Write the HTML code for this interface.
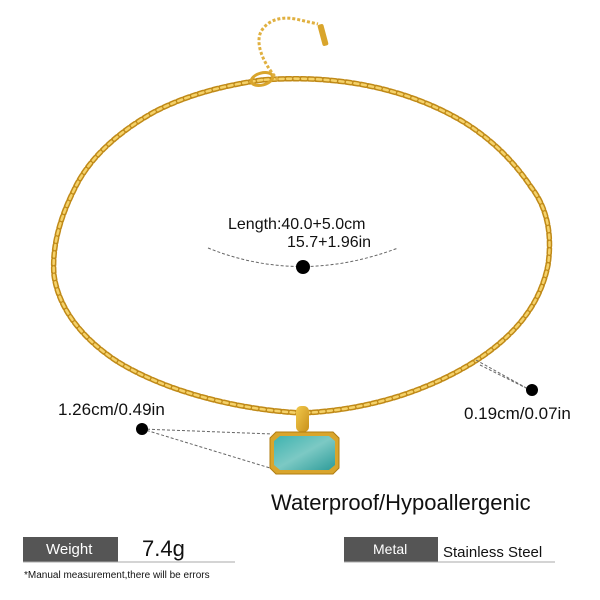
<!DOCTYPE html>
<html><head><style>
body{margin:0;width:600px;height:600px;background:#fff;overflow:hidden;font-family:"Liberation Sans",Arial,sans-serif;}
svg{position:absolute;left:0;top:0}
.t{position:absolute;color:#111;white-space:nowrap}
</style></head><body>
<svg width="600" height="600">
<defs>
<linearGradient id="g" x1="0" y1="0" x2="1" y2="1"><stop offset="0" stop-color="#f2c94c"/><stop offset="1" stop-color="#c8901a"/></linearGradient>
<linearGradient id="st" x1="0" y1="0" x2="1" y2="1"><stop offset="0" stop-color="#3fb3b0"/><stop offset="0.5" stop-color="#7cc9c4"/><stop offset="1" stop-color="#2e9c9a"/></linearGradient>
</defs>
<g fill="none" stroke-linecap="round">
<path d="M262,80 C220,86 185,96 154,112 C115,134 88,160 74,190 C58,222 52,250 54,275 C58,305 78,335 115,360 C165,392 240,410 302,413 C370,410 430,390 477,360 C515,335 540,305 548,265 C553,230 545,205 531,187 C513,160 490,138 462,121 C430,102 390,88 346,82 C315,78 288,78 262,80 Z" stroke="#c08a18" stroke-width="5.5" stroke-dasharray="5 2.5"/>
<path d="M262,80 C220,86 185,96 154,112 C115,134 88,160 74,190 C58,222 52,250 54,275 C58,305 78,335 115,360 C165,392 240,410 302,413 C370,410 430,390 477,360 C515,335 540,305 548,265 C553,230 545,205 531,187 C513,160 490,138 462,121 C430,102 390,88 346,82 C315,78 288,78 262,80 Z" stroke="#f5d26a" stroke-width="2.5" stroke-dasharray="4 3.5"/>
</g>
<!-- clasp and extender -->
<ellipse cx="262" cy="79" rx="11" ry="6" fill="none" stroke="#d9a52c" stroke-width="3" transform="rotate(-15 262 79)"/>
<path d="M278,80 C260,60 255,40 262,30 C270,18 285,16 300,20 L318,24" fill="none" stroke="#e0b040" stroke-width="3" stroke-dasharray="3 2"/>
<rect x="320" y="24" width="6" height="22" rx="2" fill="#d9a52c" transform="rotate(-15 323 35)"/>
<!-- pendant -->
<rect x="296" y="406" width="13" height="26" rx="5" fill="url(#g)"/>
<path d="M276,432 L333,432 L339,438 L339,468 L333,474 L276,474 L270,468 L270,438 Z" fill="#d9a52c" stroke="#b07d12"/>
<path d="M280,436 L329,436 L335,441 L335,465 L329,470 L280,470 L274,465 L274,441 Z" fill="url(#st)"/>
<!-- measurement lines -->
<path d="M208,248 Q300,285 398,248" fill="none" stroke="#666" stroke-dasharray="3 2"/>
<circle cx="303" cy="267" r="7" fill="#000"/>
<line x1="142" y1="429" x2="272" y2="434" stroke="#666" stroke-dasharray="3 2"/>
<line x1="142" y1="429" x2="270" y2="468" stroke="#666" stroke-dasharray="3 2"/>
<circle cx="142" cy="429" r="6" fill="#000"/>
<line x1="476" y1="360" x2="530" y2="390" stroke="#666" stroke-dasharray="3 2"/>
<line x1="480" y1="365" x2="530" y2="390" stroke="#666" stroke-dasharray="3 2"/>
<circle cx="532" cy="390" r="6" fill="#000"/>
<!-- table -->
<rect x="23" y="537" width="95" height="25" fill="#555"/>
<line x1="23" y1="562" x2="235" y2="562" stroke="#aaa"/>
<rect x="344" y="537" width="94" height="25" fill="#555"/>
<line x1="344" y1="562" x2="555" y2="562" stroke="#aaa"/>
</svg>
<div class="t" style="left:228px;top:216px;font-size:16px">Length:40.0+5.0cm</div>
<div class="t" style="left:287px;top:234px;font-size:16px">15.7+1.96in</div>
<div class="t" style="left:58px;top:400px;font-size:17px">1.26cm/0.49in</div>
<div class="t" style="left:464px;top:404px;font-size:17px">0.19cm/0.07in</div>
<div class="t" style="left:271px;top:490px;font-size:22px">Waterproof/Hypoallergenic</div>
<div class="t" style="left:46px;top:541px;font-size:15px;color:#fff">Weight</div>
<div class="t" style="left:142px;top:536px;font-size:22px">7.4g</div>
<div class="t" style="left:373px;top:541px;font-size:14px;color:#fff">Metal</div>
<div class="t" style="left:443px;top:544px;font-size:15px">Stainless Steel</div>
<div class="t" style="left:24px;top:570px;font-size:10px">*Manual measurement,there will be errors</div>
</body></html>
